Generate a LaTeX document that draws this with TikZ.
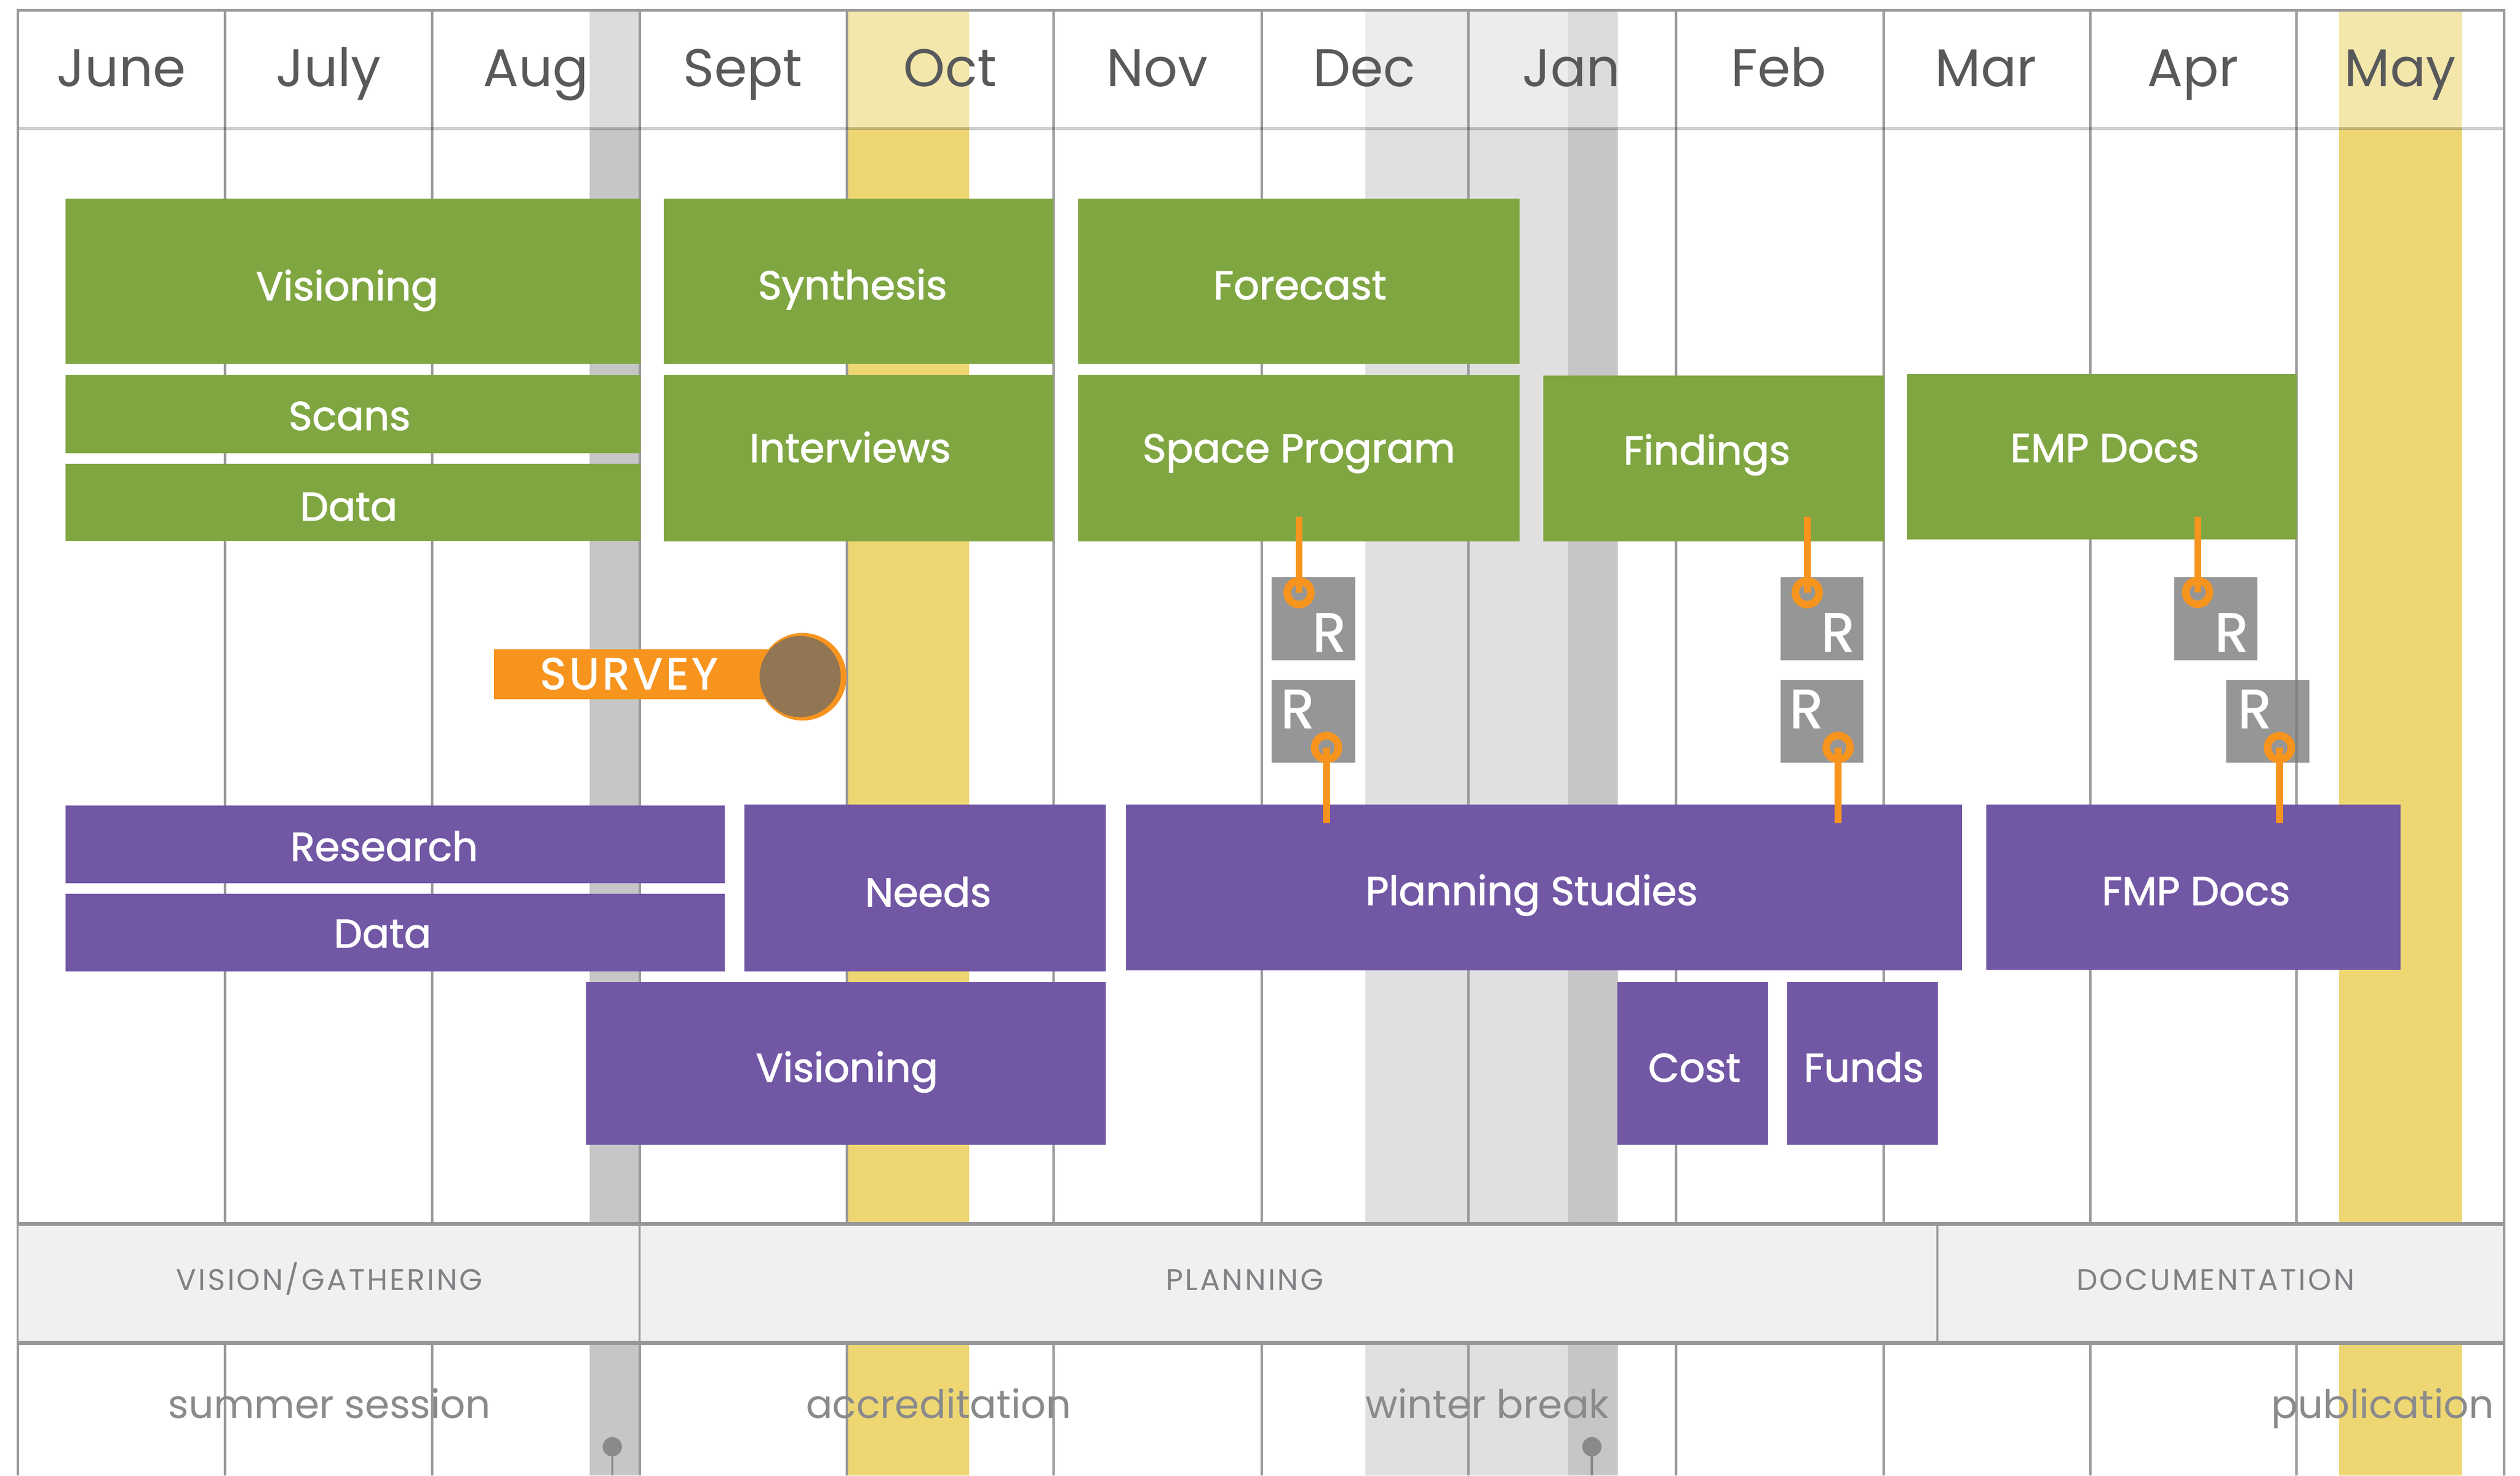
\documentclass[tikz,border=0pt]{standalone}
\usepackage{fontspec}
\setmainfont{Poppins}
\newfontfamily\medfont{Poppins}[FakeBold=1.6]
\newfontfamily\capsfont{Poppins}[LetterSpace=7]
\newfontfamily\surveyfont{Poppins}[FakeBold=1.8,LetterSpace=7.5]
\definecolor{cgreen}{HTML}{80A642}
\definecolor{cpurple}{HTML}{7257A5}
\definecolor{corange}{HTML}{F7941E}
\definecolor{cyellow}{HTML}{EED773}
\definecolor{cgreyband}{HTML}{C6C6C6}
\definecolor{clightband}{HTML}{E0E0E0}
\definecolor{cgrid}{HTML}{9A9A9C}
\definecolor{cphase}{HTML}{F0F0F0}
\definecolor{cphaseline}{HTML}{96969A}
\definecolor{cmonth}{HTML}{58595B}
\definecolor{cbottom}{HTML}{8A8A8C}
\definecolor{cphasetext}{HTML}{808184}
\definecolor{cbrown}{HTML}{927552}
\definecolor{crbox}{HTML}{797979}
\newcommand\drawbox[6]{%
  \pgfmathsetmacro\bxw{#5-#3}%
  \pgfmathsetmacro\bxh{#6-#4}%
  \node[#1, minimum width=\bxw pt, minimum height=\bxh pt] (#2) at ({(#3+#5)/2},{(#4+#6)/2}) {};}
\begin{document}
\begin{tikzpicture}[x=1pt,y=-1pt,
  boxbase/.style={rectangle, draw=none, inner sep=0pt, outer sep=0pt},
  gbox/.style={boxbase, fill=cgreen},
  pbox/.style={boxbase, fill=cpurple},
  rbox/.style={boxbase, fill=crbox, fill opacity=0.78},
  btext/.style={text=white, font=\medfont\fontsize{25}{30}\selectfont, anchor=base, inner sep=0pt},
  rtext/.style={text=white, font=\medfont\fontsize{34}{40}\selectfont, anchor=base, inner sep=0pt},
  month/.style={text=cmonth, font=\fontsize{33}{40}\selectfont, anchor=base, inner sep=0pt},
  phasetext/.style={text=cphasetext, font=\capsfont\fontsize{18.5}{22}\selectfont, anchor=base, inner sep=0pt},
  bottomtext/.style={text=cbottom, font=\fontsize{24.5}{30}\selectfont, anchor=base, inner sep=0pt},
  gridline/.style={draw=cgrid, line width=1.6pt},
  phaseline/.style={draw=cphaseline, line width=2.4pt},
  oline/.style={draw=corange, line width=4.3pt},
  ring/.style={circle, draw=corange, line width=4.6pt, minimum size=14.8pt, inner sep=0pt, fill=none},
  pin/.style={circle, fill=cbottom, minimum size=12pt, inner sep=0pt},
  pinline/.style={draw=cbottom, line width=1.5pt}
]
\useasboundingbox (0,0) rectangle (1568,918);
\fill[white] (0,0) rectangle (1568,918);
\begin{scope}
\clip (0,0) rectangle (1568,918);
% bands
\fill[cgreyband] (367,7) rectangle (398,918);
\fill[cyellow] (527,7) rectangle (603,918);
\fill[clightband] (849.5,7) rectangle (975.5,918);
\fill[cgreyband] (975.5,7) rectangle (1006.5,918);
\fill[cyellow] (1455.4,7) rectangle (1531.8,918);
\fill[white, opacity=0.4] (11,7) rectangle (1558,80);
% grid
\foreach \x in {11,140,269,398,527,655.5,785,913.8,1043,1172,1300.6,1429,1558}
  \draw[gridline] (\x,6) -- (\x,918);
\draw[gridline] (10.2,6.5) -- (1558.8,6.5);
\draw[black, opacity=0.2, line width=2pt] (11.8,80) -- (1557.2,80);
% months
\foreach \m [count=\i from 0] in {June,July,Aug,Sept,Oct,Nov,Dec,Jan,Feb,Mar,Apr,May}
  \node[month] (m\i) at ({75.5+128.9*\i},53.7) {\m};
% phase band
\fill[cphase] (11,761.5) rectangle (1558,835.5);
\draw[phaseline] (10.2,761.5) -- (1558.8,761.5);
\draw[phaseline] (10.2,835.5) -- (1558.8,835.5);
\foreach \x in {11,398,1205.5,1558}
  \draw[gridline, line width=1.3pt] (\x,761.5) -- (\x,835.5);
\node[phasetext] (ph1) at (205,802.8) {VISION/GATHERING};
\node[phasetext] (ph2) at (774.5,802.8) {PLANNING};
\node[phasetext] (ph3) at (1378.5,802.8) {DOCUMENTATION};
% bottom labels
\node[bottomtext] (b1) at (205,882.4) {summer session};
\node[bottomtext] (b2) at (584,882.4) {accreditation};
\node[bottomtext] (b3) at (925.5,882.4) {winter break};
\node[bottomtext] (b4) at (1482.5,882.4) {publication};
\node[pin] (pin1) at (381,900) {};
\node[pin] (pin2) at (990.5,900) {};
\coordinate (pin1end) at (381,918);
\coordinate (pin2end) at (990.5,918);
\draw[pinline] (pin1.center) -- (pin1end);
\draw[pinline] (pin2.center) -- (pin2end);
% green boxes
\drawbox{gbox}{gvis}{40.9}{123.6}{398.5}{226.5}
\drawbox{gbox}{gscans}{40.9}{233.4}{398.5}{281.8}
\drawbox{gbox}{gdata}{40.9}{288.4}{398.5}{336.6}
\drawbox{gbox}{gsyn}{413}{123.6}{655.5}{226.5}
\drawbox{gbox}{gint}{413}{233.4}{655.5}{336.7}
\drawbox{gbox}{gfore}{670.8}{123.4}{945.5}{226.5}
\drawbox{gbox}{gsp}{670.8}{233.4}{945.5}{336.7}
\drawbox{gbox}{gfind}{960.2}{233.7}{1172.6}{336.7}
\drawbox{gbox}{gemp}{1186.6}{232.7}{1428.9}{335.7}
\node[btext] (tgvis) at (216,186.8) {Visioning};
\node[btext] (tgscans) at (217.5,267.5) {Scans};
\node[btext] (tgdata) at (217,323.9) {Data};
\node[btext] (tgsyn) at (530.5,186.2) {Synthesis};
\node[btext] (tgint) at (529,287.5) {Interviews};
\node[btext] (tgfore) at (808.8,186.2) {Forecast};
\node[btext] (tgsp) at (808.2,287.6) {Space Program};
\node[btext] (tgfind) at (1062,289) {Findings};
\node[btext] (tgemp) at (1309.6,287.4) {EMP Docs};
% purple boxes
\drawbox{pbox}{pres}{40.9}{501.1}{451.1}{549.4}
\drawbox{pbox}{pdata}{40.9}{556.1}{451.1}{604.4}
\drawbox{pbox}{pneeds}{463.1}{500.5}{688.1}{604.4}
\drawbox{pbox}{pps}{700.6}{500.5}{1220.8}{603.6}
\drawbox{pbox}{pfmp}{1236}{500.4}{1493.7}{603.4}
\drawbox{pbox}{pvis}{364.8}{610.9}{688.1}{712.3}
\drawbox{pbox}{pcost}{1006.3}{610.9}{1100}{712.3}
\drawbox{pbox}{pfunds}{1112}{610.9}{1205.7}{712.3}
\node[btext] (tpres) at (239,535.5) {Research};
\node[btext] (tpdata) at (238,589.5) {Data};
\node[btext] (tpneeds) at (577.5,563.9) {Needs};
\node[btext] (tpps) at (953,563) {Planning Studies};
\node[btext] (tpfmp) at (1366.4,563) {FMP Docs};
\node[btext] (tpvis) at (527,673) {Visioning};
\node[btext] (tpcost) at (1054.3,673) {Cost};
\node[btext] (tpfunds) at (1159.7,673) {Funds};
% survey
\drawbox{boxbase, fill=corange}{svbar}{307.4}{404}{490}{435.1}
\node[circle, fill=corange, minimum size=54.5pt, inner sep=0pt] (svcirc) at (499.4,421) {};
\node[circle, fill=cbrown, minimum size=50.5pt, inner sep=0pt] (svinner) at (497.9,420.9) {};
\node[text=white, font=\surveyfont\fontsize{27.5}{32}\selectfont, anchor=base, inner sep=0pt] (svtext) at (391.3,428.7) {SURVEY};
% review boxes
\drawbox{rbox}{rb1}{791.3}{359.2}{843.3}{410.8}
\drawbox{rbox}{rb2}{791.3}{422.9}{843.3}{474.6}
\drawbox{rbox}{rb3}{1107.9}{359.2}{1159.4}{410.8}
\drawbox{rbox}{rb4}{1107.9}{422.9}{1159.4}{474.6}
\drawbox{rbox}{rb5}{1353}{359.2}{1404.7}{410.9}
\drawbox{rbox}{rb6}{1385.2}{422.9}{1436.9}{474.6}
\node[rtext] (rt1) at (827,405.3) {R};
\node[rtext] (rt2) at (807.3,452.9) {R};
\node[rtext] (rt3) at (1143.5,405.3) {R};
\node[rtext] (rt4) at (1123.9,452.9) {R};
\node[rtext] (rt5) at (1388.5,405.3) {R};
\node[rtext] (rt6) at (1402.8,452.9) {R};
% orange connectors
\coordinate (c1) at (808.3,321.4);
\coordinate (c3) at (1124.5,321.4);
\coordinate (c5) at (1367.4,321.4);
\coordinate (c2) at (825.4,512);
\coordinate (c4) at (1143.7,512);
\coordinate (c6) at (1418.3,512);
\node[ring] (ring1) at (808.3,368.7) {};
\node[ring] (ring3) at (1124.5,368.7) {};
\node[ring] (ring5) at (1367.4,368.5) {};
\node[ring] (ring2) at (825.4,465) {};
\node[ring] (ring4) at (1143.7,465) {};
\node[ring] (ring6) at (1418.3,465.1) {};
\draw[oline] (c1) -- (ring1.center);
\draw[oline] (c3) -- (ring3.center);
\draw[oline] (c5) -- (ring5.center);
\draw[oline] (ring2.center) -- (c2);
\draw[oline] (ring4.center) -- (c4);
\draw[oline] (ring6.center) -- (c6);
\node[ring] at (ring1) {};
\node[ring] at (ring3) {};
\node[ring] at (ring5) {};
\node[ring] at (ring2) {};
\node[ring] at (ring4) {};
\node[ring] at (ring6) {};
\end{scope}
\end{tikzpicture}
\end{document}
